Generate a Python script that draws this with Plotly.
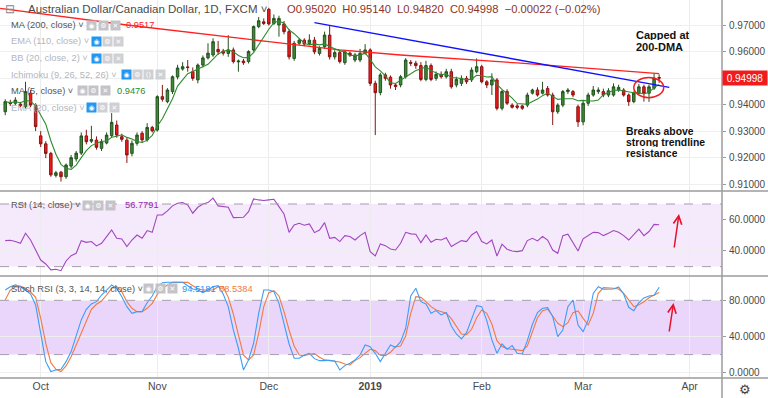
import plotly.graph_objects as go
from plotly.subplots import make_subplots
import pandas as pd

# ---------------- data ----------------
TICK_IDX = [7, 30, 52, 72, 94, 114, 135]
TICK_TXT = ["Oct", "Nov", "Dec", "<b>2019</b>", "Feb", "Mar", "Apr"]

OPEN = [0.9373, 0.9408, 0.9405, 0.9402, 0.9392, 0.9443, 0.9398, 0.9282, 0.9252, 0.9216,
        0.9133, 0.9145, 0.9128, 0.9168, 0.9195, 0.9217, 0.9282, 0.9262, 0.9266, 0.9235,
        0.9255, 0.9283, 0.9323, 0.9279, 0.9266, 0.9216, 0.9254, 0.9292, 0.9267, 0.9314,
        0.9304, 0.9430, 0.9411, 0.9449, 0.9504, 0.9534, 0.9542, 0.9524, 0.9493, 0.9549,
        0.9576, 0.9587, 0.9608, 0.9602, 0.9593, 0.9606, 0.9561, 0.9564, 0.9562, 0.9606,
        0.9694, 0.9712, 0.9759, 0.9706, 0.9700, 0.9704, 0.9675, 0.9574, 0.9631, 0.9643,
        0.9630, 0.9643, 0.9593, 0.9618, 0.9662, 0.9580, 0.9596, 0.9558, 0.9594, 0.9568,
        0.9568, 0.9593, 0.9606, 0.9480, 0.9445, 0.9512, 0.9503, 0.9474, 0.9474, 0.9505,
        0.9559, 0.9556, 0.9547, 0.9495, 0.9547, 0.9499, 0.9514, 0.9505, 0.9524, 0.9474,
        0.9480, 0.9499, 0.9493, 0.9524, 0.9543, 0.9486, 0.9474, 0.9493, 0.9386, 0.9449,
        0.9398, 0.9395, 0.9395, 0.9398, 0.9443, 0.9455, 0.9443, 0.9461, 0.9436, 0.9373,
        0.9398, 0.9449, 0.9449, 0.9392, 0.9335, 0.9405, 0.9436, 0.9449, 0.9449, 0.9436,
        0.9436, 0.9455, 0.9455, 0.9436, 0.9411, 0.9443, 0.9467, 0.9443, 0.9462, 0.95020]
HIGH = [0.9420, 0.9418, 0.9428, 0.9410, 0.9486, 0.9455, 0.9405, 0.9300, 0.9262, 0.9222,
        0.9150, 0.9150, 0.9178, 0.9210, 0.9225, 0.9295, 0.9305, 0.9320, 0.9280, 0.9270,
        0.9295, 0.9368, 0.9340, 0.9290, 0.9275, 0.9265, 0.9295, 0.9300, 0.9330, 0.9320,
        0.9435, 0.9474, 0.9462, 0.9510, 0.9550, 0.9560, 0.9568, 0.9540, 0.9555, 0.9585,
        0.9631, 0.9650, 0.9640, 0.9610, 0.9662, 0.9615, 0.9570, 0.9572, 0.9605, 0.9698,
        0.9730, 0.9725, 0.9765, 0.9740, 0.9735, 0.9715, 0.9685, 0.9640, 0.9650, 0.9650,
        0.9665, 0.9655, 0.9620, 0.9675, 0.9696, 0.9605, 0.9605, 0.9605, 0.9600, 0.9595,
        0.9610, 0.9628, 0.9612, 0.9490, 0.9520, 0.9520, 0.9510, 0.9480, 0.9512, 0.9575,
        0.9568, 0.9565, 0.9560, 0.9565, 0.9555, 0.9525, 0.9525, 0.9535, 0.9535, 0.9505,
        0.9510, 0.9508, 0.9540, 0.9574, 0.9550, 0.9492, 0.9518, 0.9500, 0.9455, 0.9458,
        0.9405, 0.9402, 0.9400, 0.9445, 0.9460, 0.9465, 0.9486, 0.9470, 0.9445, 0.9405,
        0.9455, 0.9462, 0.9455, 0.9400, 0.9415, 0.9445, 0.9470, 0.9465, 0.9460, 0.9462,
        0.9480, 0.9475, 0.9462, 0.9442, 0.9450, 0.9478, 0.9475, 0.9475, 0.9518, 0.95140]
LOW = [0.9360, 0.9395, 0.9398, 0.9390, 0.9385, 0.9390, 0.9300, 0.9240, 0.9198, 0.9128,
       0.9125, 0.9110, 0.9120, 0.9160, 0.9185, 0.9210, 0.9250, 0.9255, 0.9230, 0.9225,
       0.9250, 0.9275, 0.9275, 0.9260, 0.9180, 0.9205, 0.9245, 0.9255, 0.9260, 0.9295,
       0.9298, 0.9411, 0.9405, 0.9440, 0.9495, 0.9528, 0.9524, 0.9490, 0.9480, 0.9540,
       0.9570, 0.9580, 0.9588, 0.9585, 0.9580, 0.9555, 0.9524, 0.9550, 0.9555, 0.9600,
       0.9688, 0.9700, 0.9698, 0.9700, 0.9656, 0.9665, 0.9570, 0.9565, 0.9625, 0.9620,
       0.9625, 0.9590, 0.9585, 0.9610, 0.9570, 0.9570, 0.9555, 0.9550, 0.9580, 0.9560,
       0.9560, 0.9588, 0.9470, 0.9285, 0.9435, 0.9490, 0.9460, 0.9455, 0.9465, 0.9498,
       0.9545, 0.9535, 0.9488, 0.9488, 0.9488, 0.9490, 0.9498, 0.9498, 0.9460, 0.9465,
       0.9470, 0.9478, 0.9485, 0.9518, 0.9480, 0.9462, 0.9436, 0.9378, 0.9378, 0.9398,
       0.9385, 0.9382, 0.9380, 0.9390, 0.9438, 0.9430, 0.9438, 0.9430, 0.9323, 0.9365,
       0.9390, 0.9440, 0.9428, 0.9316, 0.9322, 0.9395, 0.9430, 0.9440, 0.9428, 0.9428,
       0.9430, 0.9448, 0.9430, 0.9395, 0.9405, 0.9438, 0.9411, 0.9410, 0.9455, 0.94820]
CLOSE = [0.9411, 0.9404, 0.9417, 0.9396, 0.9449, 0.9398, 0.9317, 0.9252, 0.9216, 0.9135,
         0.9143, 0.9128, 0.9172, 0.9200, 0.9217, 0.9282, 0.9260, 0.9268, 0.9239, 0.9260,
         0.9285, 0.9333, 0.9285, 0.9269, 0.9210, 0.9254, 0.9285, 0.9267, 0.9314, 0.9301,
         0.9430, 0.9420, 0.9455, 0.9505, 0.9538, 0.9543, 0.9540, 0.9499, 0.9549, 0.9576,
         0.9594, 0.9637, 0.9599, 0.9594, 0.9606, 0.9562, 0.9564, 0.9558, 0.9600, 0.9694,
         0.9716, 0.9706, 0.9704, 0.9725, 0.9725, 0.9675, 0.9580, 0.9631, 0.9643, 0.9628,
         0.9643, 0.9599, 0.9612, 0.9662, 0.9580, 0.9596, 0.9562, 0.9599, 0.9587, 0.9587,
         0.9593, 0.9606, 0.9480, 0.9445, 0.9512, 0.9499, 0.9474, 0.9468, 0.9505, 0.9568,
         0.9556, 0.9547, 0.9495, 0.9547, 0.9495, 0.9514, 0.9505, 0.9524, 0.9467, 0.9495,
         0.9499, 0.9486, 0.9530, 0.9543, 0.9486, 0.9474, 0.9493, 0.9386, 0.9449, 0.9405,
         0.9390, 0.9390, 0.9386, 0.9436, 0.9455, 0.9436, 0.9455, 0.9436, 0.9373, 0.9398,
         0.9449, 0.9455, 0.9436, 0.9335, 0.9405, 0.9436, 0.9455, 0.9455, 0.9436, 0.9452,
         0.9467, 0.9465, 0.9436, 0.9411, 0.9443, 0.9467, 0.9443, 0.9467, 0.9500, 0.94998]

MA200_IDX = [-1, 24, 52, 66, 78, 101, 129]
MA200_VAL = [0.9763, 0.9700, 0.9637, 0.9606, 0.9587, 0.9557, 0.9517]

TREND_IDX = [61, 131]
TREND_VAL = [0.9709, 0.9465]

RSI = [46.6, 46.8, 46.0, 44.9, 51.3, 47.0, 40.6, 34.2, 31.7, 27.9,
       28.3, 27.4, 33.6, 37.0, 38.5, 46.6, 45.5, 46.0, 43.2, 44.9,
       49.2, 53.4, 48.1, 47.7, 42.8, 47.0, 50.2, 48.1, 53.0, 51.9,
       63.0, 63.0, 65.6, 68.8, 70.5, 70.9, 69.4, 64.1, 67.9, 70.0,
       70.9, 73.7, 68.8, 68.3, 67.9, 61.3, 61.3, 61.5, 65.1, 73.2,
       72.6, 72.2, 72.6, 73.0, 68.3, 63.6, 51.9, 56.6, 57.7, 56.4,
       57.3, 51.7, 53.4, 58.1, 48.1, 48.7, 46.0, 49.8, 49.2, 47.0,
       49.8, 51.9, 39.6, 36.8, 44.5, 43.4, 41.3, 40.6, 44.9, 51.9,
       50.9, 50.7, 45.3, 50.2, 45.5, 47.5, 47.0, 48.5, 42.8, 44.9,
       46.6, 46.0, 50.2, 52.4, 46.0, 44.5, 47.0, 36.8, 44.3, 41.1,
       40.0, 39.6, 40.2, 46.6, 48.1, 46.4, 49.2, 47.0, 40.6, 38.5,
       49.8, 50.7, 45.3, 40.0, 47.7, 49.8, 51.9, 51.7, 49.8, 51.3,
       53.0, 51.9, 49.8, 47.0, 50.7, 54.0, 49.8, 52.4, 57.0, 56.78]

STOCH_K = [91.4, 95.1, 97.0, 95.1, 91.4, 87.0, 74.8, 43.5, 12.2, 1.2,
           3.0, 3.8, 12.2, 23.3, 39.8, 58.3, 70.1, 76.0, 78.5, 85.9,
           91.4, 97.0, 93.3, 84.0, 73.0, 65.6, 67.5, 67.5, 77.4, 84.8,
           95.1, 99.5, 100.0, 100.0, 100.0, 100.0, 96.2, 92.5, 91.4, 88.5,
           91.4, 95.1, 96.2, 87.0, 73.0, 47.2, 27.0, 3.0, 14.1, 32.5,
           65.6, 91.4, 91.4, 89.6, 76.7, 52.7, 31.7, 15.9, 15.9, 19.6,
           21.4, 15.5, 13.3, 13.3, 13.7, 13.0, 3.0, 7.8, 10.4, 14.1,
           19.6, 30.6, 28.8, 21.4, 12.2, 21.4, 30.6, 28.0, 34.3, 49.1,
           84.8, 93.3, 78.5, 76.0, 65.6, 68.6, 63.8, 66.4, 51.6, 42.8,
           37.3, 44.3, 58.3, 74.1, 73.0, 57.5, 36.2, 21.4, 31.7, 25.9,
           29.9, 21.4, 20.7, 35.4, 53.5, 66.4, 71.2, 71.9, 62.0, 39.8,
           47.2, 73.0, 80.4, 52.7, 45.4, 58.3, 87.7, 95.1, 92.2, 92.2,
           92.5, 94.7, 87.0, 72.3, 68.6, 77.4, 82.6, 84.8, 85.5, 94.52]

STOCH_D = [80.4, 91.4, 95.1, 95.8, 93.3, 89.2, 83.3, 60.1, 32.5, 11.1,
           3.8, 1.2, 7.4, 17.7, 30.6, 44.3, 58.3, 70.1, 75.6, 79.3,
           85.9, 93.3, 95.1, 89.6, 78.5, 71.2, 67.5, 67.5, 71.2, 76.7,
           86.6, 93.3, 97.0, 99.9, 100.0, 100.0, 99.9, 96.2, 92.9, 91.4,
           91.4, 91.4, 95.1, 95.1, 83.3, 64.9, 41.7, 19.6, 14.1, 19.6,
           43.5, 73.0, 88.5, 90.7, 84.8, 67.5, 47.2, 29.5, 19.6, 18.9,
           20.3, 21.1, 17.0, 14.1, 13.3, 12.2, 11.8, 9.6, 8.5, 13.3,
           16.6, 21.4, 25.9, 24.4, 19.2, 18.9, 22.5, 28.8, 29.5, 40.6,
           65.6, 84.0, 83.3, 78.5, 73.0, 69.3, 67.5, 65.6, 59.7, 50.9,
           42.8, 42.1, 48.0, 60.8, 69.3, 65.6, 53.8, 35.4, 28.8, 26.6,
           25.9, 24.4, 24.4, 29.5, 44.3, 60.8, 68.6, 70.1, 62.7, 54.6,
           50.9, 55.3, 66.4, 68.2, 60.1, 52.7, 65.6, 87.7, 94.0, 94.0,
           93.3, 92.5, 87.7, 80.4, 73.0, 75.2, 78.5, 82.9, 85.9, 88.54]

LAST_PRICE = 0.94998

# ---------------- geometry helpers (pixels -> paper) ----------------
W, H = 768, 398
PW, PH = 722, 378  # plot area


def px(x):
    return x / PW


def py(y):
    return (PH - y) / PH


X = list(range(len(CLOSE)))
MA5 = pd.Series(CLOSE).rolling(5, min_periods=1).mean().tolist()

FONT = "Liberation Sans, Arial, sans-serif"
AXC = "#4a4a4a"

fig = make_subplots(rows=3, cols=1, shared_xaxes=True, vertical_spacing=0,
                    row_heights=[191, 85, 102])

fig.add_trace(go.Candlestick(
    x=X, open=OPEN, high=HIGH, low=LOW, close=CLOSE,
    increasing=dict(line=dict(color="#24521f", width=1), fillcolor="#3f8a35"),
    decreasing=dict(line=dict(color="#8a1414", width=1), fillcolor="#f21b1b"),
    whiskerwidth=0, hoverinfo="skip"), row=1, col=1)
fig.add_trace(go.Scatter(x=MA200_IDX, y=MA200_VAL, mode="lines",
                         line=dict(color="#ff2020", width=1.3)), row=1, col=1)
fig.add_trace(go.Scatter(x=X, y=MA5, mode="lines",
                         line=dict(color="#2e8b2e", width=1.1)), row=1, col=1)
fig.add_trace(go.Scatter(x=TREND_IDX, y=TREND_VAL, mode="lines",
                         line=dict(color="#1010ff", width=1.4)), row=1, col=1)

fig.add_trace(go.Scatter(x=X, y=RSI, mode="lines",
                         line=dict(color="#a146be", width=1.1)), row=2, col=1)
fig.add_trace(go.Scatter(x=X, y=STOCH_D, mode="lines",
                         line=dict(color="#f07a42", width=1.1)), row=3, col=1)
fig.add_trace(go.Scatter(x=X, y=STOCH_K, mode="lines",
                         line=dict(color="#3d9df5", width=1.1)), row=3, col=1)

XR = [-1.03, 141.4]
for i in (1, 2, 3):
    fig.update_xaxes(row=i, col=1, range=XR, tickvals=TICK_IDX, ticktext=TICK_TXT,
                     showgrid=True, gridcolor="#ececec", gridwidth=1, zeroline=False,
                     showline=False, ticks="", rangeslider_visible=False,
                     showticklabels=(i == 3), automargin=False,
                     tickfont=dict(family=FONT, size=10.5, color=AXC))

MAIN_TICKS = [0.91, 0.92, 0.93, 0.94, 0.95, 0.96, 0.97, 0.98]
yax_common = dict(side="right", showgrid=True, gridcolor="#efefef", zeroline=False,
                  showline=False, ticks="outside", ticklen=3, tickcolor="#9a9a9a",
                  automargin=False, ticklabelstandoff=1,
                  tickfont=dict(family=FONT, size=10, color=AXC))
fig.update_yaxes(row=1, col=1, range=[0.90742, 0.97943], tickvals=MAIN_TICKS,
                 ticktext=["" if abs(v - 0.95) < 1e-9 else f"{v:.5f}" for v in MAIN_TICKS],
                 domain=[py(191), 1], **yax_common)
fig.update_yaxes(row=2, col=1, range=[24.0, 78.3], tickvals=[40, 60],
                 ticktext=["40.0000", "60.0000"], domain=[py(276), py(191)], **yax_common)
fig.update_yaxes(row=3, col=1, range=[-5.9, 106.9], tickvals=[0, 40, 80],
                 ticktext=["0.0000", "40.0000", "80.0000"], domain=[0, py(276)], **yax_common)

shapes = []
# indicator bands
shapes.append(dict(type="rect", xref="paper", x0=0, x1=1, yref="y2", y0=30, y1=70,
                   fillcolor="#f5eafc", line=dict(width=0), layer="below"))
shapes.append(dict(type="rect", xref="paper", x0=0, x1=1, yref="y3", y0=20, y1=80,
                   fillcolor="#ebd6fb", line=dict(width=0), layer="below"))
for yr, lv in (("y2", 70), ("y2", 30), ("y3", 80), ("y3", 20)):
    shapes.append(dict(type="line", xref="paper", x0=0, x1=1, yref=yr, y0=lv, y1=lv,
                       line=dict(color="#a69cb0", width=1, dash="dash")))
# pane separators and axis frame
for ysep in (191, 276):
    shapes.append(dict(type="line", xref="paper", x0=0, x1=W / PW, yref="paper",
                       y0=py(ysep), y1=py(ysep), line=dict(color="#9b9b9b", width=1.5)))
shapes.append(dict(type="line", xref="paper", x0=0, x1=W / PW, yref="paper", y0=0, y1=0,
                   line=dict(color="#9b9b9b", width=1.5)))
shapes.append(dict(type="line", xref="paper", x0=1, x1=1, yref="paper", y0=py(H), y1=1,
                   line=dict(color="#9b9b9b", width=1.5)))
# red ellipse drawing
shapes.append(dict(type="circle", xref="x", yref="y", x0=124.0, x1=129.9,
                   y0=0.9426, y1=0.9502, line=dict(color="#f01e1e", width=1.5)))

ann = []


def text(x, y, s, size=9.3, color=AXC, bold=False, anchor="left", **kw):
    if bold:
        s = f"<b>{s}</b>"
    ann.append(dict(xref="paper", yref="paper", x=px(x), y=py(y), text=s,
                    showarrow=False, xanchor=anchor, yanchor="middle",
                    font=dict(family=FONT, size=size, color=color), **kw))


def icon(x, y, sym, bg):
    ann.append(dict(xref="paper", yref="paper", x=px(x), y=py(y), text=sym,
                    showarrow=False, xanchor="left", yanchor="middle", width=9, height=9,
                    bgcolor=bg, borderpad=0, align="center",
                    font=dict(family="DejaVu Sans", size=7, color="white")))


# header
text(3, 9, "⊟", size=12, color="#888")
text(26, 9, "Australian Dollar/Canadian Dollar, 1D, FXCM ˅", size=11.5, color="#4a4a4a")
text(285, 9, "O0.95020  H0.95140  L0.94820  C0.94998  −0.00022 (−0.02%)", size=11.2,
     color="#8d3428")

GREY_ON, GREY_OFF, BLUE = "#c3c3c8", "#cfd0d4", "#2196f3"
ACT, DIS = "#555555", "#b2b5be"
rows = [
    (25, "MA (200, close) ˅", ACT, [(86, "◉", GREY_ON), (98, "⚙", GREY_ON), (110, "✕", GREY_ON)],
     [("0.9517", "#ff2020", 124)]),
    (41.5, "EMA (110, close) ˅", DIS, [(91, "◉", BLUE), (102, "⚙", GREY_OFF), (113, "✕", GREY_OFF)], []),
    (58, "BB (20, close, 2) ˅", DIS, [(91, "◉", BLUE), (102, "⚙", GREY_OFF), (113, "✕", GREY_OFF)], []),
    (74.5, "Ichimoku (9, 26, 52, 26) ˅", DIS,
     [(121, "◉", BLUE), (132, "⚙", GREY_OFF), (143, "()", GREY_OFF), (155, "✕", GREY_OFF)], []),
    (91, "MA (5, close) ˅", ACT, [(77, "◉", GREY_ON), (88, "⚙", GREY_ON), (100, "✕", GREY_ON)],
     [("0.9476", "#2e8b2e", 115)]),
    (107.5, "EMA (20, close) ˅", DIS, [(86, "◉", BLUE), (97, "⚙", GREY_OFF), (109, "✕", GREY_OFF)], []),
    (205, "RSI (14, close) ˅", ACT, [(82, "◉", GREY_ON), (93, "⚙", GREY_ON), (105, "✕", GREY_ON)],
     [("56.7791", "#9c27b0", 123)]),
    (288.5, "Stoch RSI (3, 3, 14, 14, close) ˅", ACT,
     [(143, "◉", GREY_ON), (155, "⚙", GREY_ON), (167, "✕", GREY_ON)],
     [("94.5181", "#2196f3", 180), ("88.5384", "#f07a42", 217)]),
]
for y, name, col, icons, vals in rows:
    text(9, y, name, size=9.3, color=col)
    for ix, sym, bg in icons:
        icon(ix, y, sym, bg)
    for v, vc, vx in vals:
        text(vx, y, v, size=9.3, color=vc)

# chart notes
text(634, 34.5, "Capped at", size=11, color="#111", bold=True, height=11)
text(634, 46.5, "200-DMA", size=11, color="#111", bold=True, height=11)
text(624, 131, "Breaks above", size=10.4, color="#111", bold=True, height=10)
text(624, 142, "strong trendline", size=10.4, color="#111", bold=True, height=10)
text(624, 153, "resistance", size=10.4, color="#111", bold=True, height=10)

# red arrows
for hx, hy, dx, dy in ((679, 214, -5, 35), (673.5, 303, -4.5, 30)):
    ann.append(dict(xref="paper", yref="paper", x=px(hx), y=py(hy), ax=dx, ay=dy,
                    text="", showarrow=True, arrowhead=5, arrowsize=1.1, arrowwidth=1.5,
                    arrowcolor="#e8102a"))

# last price label
ann.append(dict(xref="paper", yref="y", x=1.0, y=LAST_PRICE, text=f"{LAST_PRICE:.5f}",
                showarrow=False, xanchor="left", yanchor="middle", width=44, height=14,
                bgcolor="#f21b1b", borderpad=0,
                font=dict(family=FONT, size=10, color="white")))
# settings gear
text(745, 389, "⚙", size=13, color="#444", anchor="center")

fig.update_layout(width=W, height=H, margin=dict(l=0, r=W - PW, t=0, b=H - PH, autoexpand=False),
                  plot_bgcolor="white", paper_bgcolor="white", showlegend=False,
                  hovermode=False, shapes=shapes, annotations=ann)

fig.write_html("out.html", config={"displayModeBar": False},
               post_script="document.body.style.margin='0';document.body.style.overflow='hidden';")
